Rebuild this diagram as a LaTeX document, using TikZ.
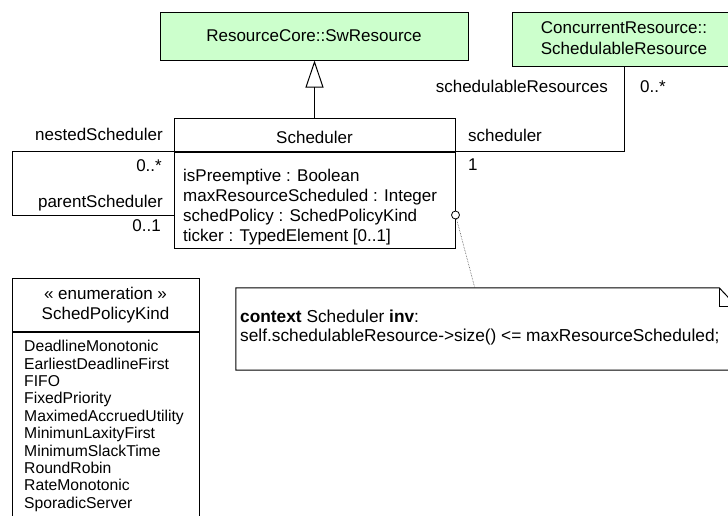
\documentclass[tikz,border=0pt]{standalone}
\usepackage{fontspec}
\setmainfont{Liberation Sans}
\usetikzlibrary{arrows.meta}
\definecolor{classgreen}{RGB}{204,255,204}
\tikzset{
  umlbox/.style={draw, line width=1pt, inner sep=0pt},
  greenbox/.style={umlbox, fill=classgreen},
  lbl/.style={inner sep=0pt, font=\fontsize{17}{20}\selectfont},
  notetxt/.style={inner sep=0pt, font=\fontsize{17.3}{20}\selectfont},
  lit/.style={inner sep=0pt, font=\fontsize{15.7}{17.4}\selectfont},
  assoc/.style={line width=1pt},
  gen/.style={line width=1pt, -{Triangle[open, width=18pt, length=27pt]}},
  notelink/.style={densely dotted, line width=0.6pt, black!70},
}
\begin{document}
\begin{tikzpicture}[x=1pt,y=-1pt]
        \useasboundingbox (0,0) rectangle (728,515);
        % classi
        \node[greenbox, minimum width=308pt, minimum height=48pt] (swres) at (314,36) {};
        \node[greenbox, minimum width=224pt, minimum height=54pt] (schedres) at (624,39) {};
        \node[umlbox, minimum width=281pt, minimum height=33pt] (schedname) at (314.5,134.5) {};
        \node[umlbox, anchor=north, minimum width=281pt, minimum height=96pt] (schedattr) at (schedname.south) {};
        \node[umlbox, minimum width=187pt, minimum height=53pt] (enumhead) at (105.5,304.5) {};
        \node[umlbox, anchor=north, minimum width=187pt, minimum height=220pt] (enumlits) at (enumhead.south) {};
        % nomi
        \node[lbl, anchor=base] (swrestxt) at (314,41) {ResourceCore::SwResource};
        \node[lbl, anchor=base] (schedrestxt) at (624,33.3) {ConcurrentResource::};\node[lbl, anchor=base] (schedrestxtb) at (624,54) {SchedulableResource};
        \node[lbl, anchor=base] (schedtxt) at (314.5,143.3) {Scheduler};
        \node[lbl, anchor=base] (enumst) at (105.5,299.3) {« enumeration »};\node[lbl, anchor=base] (enumtxt) at (105.5,319.3) {SchedPolicyKind};
        % attributi
        \node[lbl, anchor=base west] (attra) at (183,181) {isPreemptive : Boolean};
        \node[lbl, anchor=base west] (attrb) at (183,201.2) {maxResourceScheduled : Integer};
        \node[lbl, anchor=base west] (attrc) at (183,221.4) {schedPolicy : SchedPolicyKind};
        \node[lbl, anchor=base west] (attrd) at (183,241.6) {ticker : TypedElement [0..1]};
        % letterali
        \node[lit, anchor=base west] (lita) at (24,351.7) {DeadlineMonotonic};\node[lit, anchor=base west] (litb) at (24,369.1) {EarliestDeadlineFirst};
        \node[lit, anchor=base west] (litc) at (24,386.5) {FIFO};\node[lit, anchor=base west] (litd) at (24,403.9) {FixedPriority};
        \node[lit, anchor=base west] (lite) at (24,421.3) {MaximedAccruedUtility};\node[lit, anchor=base west] (litf) at (24,438.7) {MinimunLaxityFirst};
        \node[lit, anchor=base west] (litg) at (24,456.1) {MinimumSlackTime};\node[lit, anchor=base west] (lith) at (24,473.5) {RoundRobin};
        \node[lit, anchor=base west] (liti) at (24,490.9) {RateMonotonic};\node[lit, anchor=base west] (litj) at (24,508.3) {SporadicServer};
        % linee
        \draw[gen] (schedname.north) -- (schedname.north |- swres.south);
        \draw[assoc] (schedname.south east) -| (schedres.south);
        \coordinate (selfcorner) at (12,215);
        \draw[assoc] (schedname.south west) -| (selfcorner) -- (selfcorner -| schedattr.west);
        % ruoli e molteplicita
        \node[lbl, anchor=base east] (nestedlbl) at (163,140.7) {nestedScheduler};\node[lbl, anchor=base east] (nestedmul) at (162,171.7) {0..*};
        \node[lbl, anchor=base east] (parentlbl) at (163,207) {parentScheduler};\node[lbl, anchor=base east] (parentmul) at (161,231) {0..1};
        \node[lbl, anchor=base east] (reslbl) at (608,92) {schedulableResources};\node[lbl, anchor=base west] (resmul) at (640,92) {0..*};
        \node[lbl, anchor=base west] (schedlbl) at (468,141) {scheduler};\node[lbl, anchor=base west] (schedmul) at (468,170) {1};
        % nota
        \node[inner sep=0pt, minimum width=501pt, minimum height=82pt] (note) at (486.5,329) {};
        \draw[line width=1pt] (note.north west) -- ([xshift=-18pt]note.north east) -- ([yshift=-19pt]note.north east) -- (note.south east) -- (note.south west) -- cycle;
        \draw[line width=1pt] ([xshift=-18pt]note.north east) |- ([yshift=-19pt]note.north east);
        \node[notetxt, anchor=base west] (notea) at (240,322.7) {\textbf{context} Scheduler \textbf{inv}:};
        \node[notetxt, anchor=base west] (noteb) at (240,341.7) {self.schedulableResource->size() <= maxResourceScheduled;};
        \coordinate (notepin) at ([xshift=239pt]note.north west);
        \node[circle, draw, fill=white, inner sep=0pt, minimum size=8pt, line width=0.8pt] (anchorpt) at (schedattr.east |- 0,215) {};
        \draw[notelink] (anchorpt) -- (notepin);
    \end{tikzpicture}
\end{document}
